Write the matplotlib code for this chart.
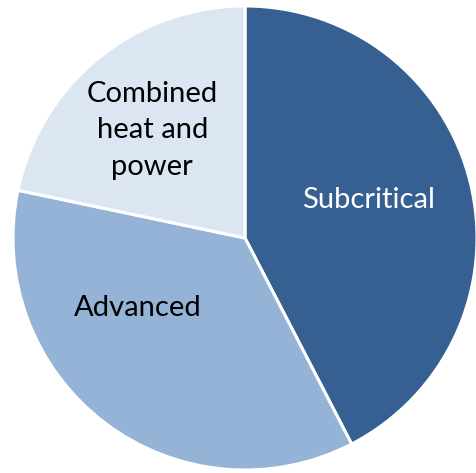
import matplotlib.pyplot as plt

labels = ["Subcritical", "Advanced", "Combined\nheat and\npower"]
shares = [42.4, 35.9, 21.7]
colors = ["#376092", "#95B3D7", "#DCE6F2"]
text_colors = ["white", "black", "black"]
label_pos = [(0.53, 0.165), (-0.46, -0.30), (-0.40, 0.465)]

plt.rcParams["font.family"] = ["Lato", "DejaVu Sans"]

fig = plt.figure(figsize=(4.76, 4.73), dpi=100)
ax = fig.add_axes([13 / 476, 3 / 473, 464 / 476, 464 / 473])

ax.pie(shares, colors=colors, startangle=90, counterclock=False, radius=1,
       wedgeprops=dict(edgecolor="white", linewidth=2.2))

for lab, (x, y), c in zip(labels, label_pos, text_colors):
    ax.text(x, y, lab, ha="center", va="center", fontsize=21, color=c,
            linespacing=1.5)

ax.set_xlim(-1, 1)
ax.set_ylim(-1, 1)
ax.axis("off")

fig.savefig("out.png", dpi=100)
